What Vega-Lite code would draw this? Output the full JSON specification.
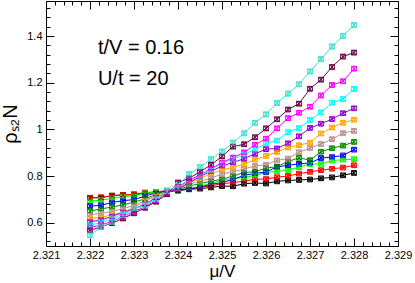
{
  "$schema": "https://vega.github.io/schema/vega-lite/v6.json",
  "width": 352,
  "height": 245,
  "autosize": {"type": "none"},
  "padding": {"left": 46, "top": 1, "right": 17, "bottom": 37},
  "config": {
    "font": "Liberation Sans",
    "view": {"stroke": "black", "strokeWidth": 1},
    "axis": {"labelFont": "Liberation Sans", "titleFont": "Liberation Sans", "labelColor": "black", "titleColor": "black", "tickColor": "#000000", "tickOpacity": 1, "tickWidth": 1, "titleFontWeight": "normal", "grid": false, "domain": false, "zindex": 2}
  },
  "data": {"values": [
    {"s":"k","x":2.322,"v":0.706,"e":0.006},{"s":"k","x":2.32225,"v":0.707,"e":0.006},{"s":"k","x":2.3225,"v":0.716,"e":0.006},{"s":"k","x":2.32275,"v":0.719,"e":0.006},{"s":"k","x":2.323,"v":0.720,"e":0.006},{"s":"k","x":2.32325,"v":0.726,"e":0.006},{"s":"k","x":2.3235,"v":0.729,"e":0.006},{"s":"k","x":2.32375,"v":0.733,"e":0.006},{"s":"k","x":2.324,"v":0.737,"e":0.006},{"s":"k","x":2.32425,"v":0.743,"e":0.006},{"s":"k","x":2.3245,"v":0.746,"e":0.006},{"s":"k","x":2.32475,"v":0.751,"e":0.006},{"s":"k","x":2.325,"v":0.757,"e":0.006},{"s":"k","x":2.32525,"v":0.756,"e":0.006},{"s":"k","x":2.3255,"v":0.767,"e":0.006},{"s":"k","x":2.32575,"v":0.770,"e":0.006},{"s":"k","x":2.326,"v":0.768,"e":0.006},{"s":"k","x":2.32625,"v":0.777,"e":0.006},{"s":"k","x":2.3265,"v":0.781,"e":0.006},{"s":"k","x":2.32675,"v":0.783,"e":0.006},{"s":"k","x":2.327,"v":0.785,"e":0.006},{"s":"k","x":2.32725,"v":0.790,"e":0.006},{"s":"k","x":2.3275,"v":0.794,"e":0.006},{"s":"k","x":2.32775,"v":0.803,"e":0.006},{"s":"k","x":2.328,"v":0.813,"e":0.006},
    {"s":"r","x":2.322,"v":0.707,"e":0.006},{"s":"r","x":2.32225,"v":0.709,"e":0.006},{"s":"r","x":2.3225,"v":0.715,"e":0.006},{"s":"r","x":2.32275,"v":0.719,"e":0.006},{"s":"r","x":2.323,"v":0.722,"e":0.006},{"s":"r","x":2.32325,"v":0.729,"e":0.006},{"s":"r","x":2.3235,"v":0.732,"e":0.006},{"s":"r","x":2.32375,"v":0.737,"e":0.006},{"s":"r","x":2.324,"v":0.741,"e":0.006},{"s":"r","x":2.32425,"v":0.745,"e":0.006},{"s":"r","x":2.3245,"v":0.751,"e":0.006},{"s":"r","x":2.32475,"v":0.758,"e":0.006},{"s":"r","x":2.325,"v":0.767,"e":0.006},{"s":"r","x":2.32525,"v":0.772,"e":0.006},{"s":"r","x":2.3255,"v":0.778,"e":0.006},{"s":"r","x":2.32575,"v":0.786,"e":0.006},{"s":"r","x":2.326,"v":0.787,"e":0.006},{"s":"r","x":2.32625,"v":0.795,"e":0.006},{"s":"r","x":2.3265,"v":0.800,"e":0.006},{"s":"r","x":2.32675,"v":0.810,"e":0.006},{"s":"r","x":2.327,"v":0.818,"e":0.006},{"s":"r","x":2.32725,"v":0.825,"e":0.006},{"s":"r","x":2.3275,"v":0.831,"e":0.006},{"s":"r","x":2.32775,"v":0.836,"e":0.006},{"s":"r","x":2.328,"v":0.846,"e":0.006},
    {"s":"g","x":2.322,"v":0.692,"e":0.006},{"s":"g","x":2.32225,"v":0.697,"e":0.006},{"s":"g","x":2.3225,"v":0.704,"e":0.006},{"s":"g","x":2.32275,"v":0.711,"e":0.006},{"s":"g","x":2.323,"v":0.716,"e":0.006},{"s":"g","x":2.32325,"v":0.725,"e":0.006},{"s":"g","x":2.3235,"v":0.732,"e":0.006},{"s":"g","x":2.32375,"v":0.737,"e":0.006},{"s":"g","x":2.324,"v":0.740,"e":0.006},{"s":"g","x":2.32425,"v":0.746,"e":0.006},{"s":"g","x":2.3245,"v":0.756,"e":0.006},{"s":"g","x":2.32475,"v":0.768,"e":0.006},{"s":"g","x":2.325,"v":0.782,"e":0.006},{"s":"g","x":2.32525,"v":0.788,"e":0.006},{"s":"g","x":2.3255,"v":0.794,"e":0.006},{"s":"g","x":2.32575,"v":0.803,"e":0.006},{"s":"g","x":2.326,"v":0.815,"e":0.006},{"s":"g","x":2.32625,"v":0.820,"e":0.006},{"s":"g","x":2.3265,"v":0.826,"e":0.006},{"s":"g","x":2.32675,"v":0.838,"e":0.006},{"s":"g","x":2.327,"v":0.851,"e":0.006},{"s":"g","x":2.32725,"v":0.852,"e":0.006},{"s":"g","x":2.3275,"v":0.866,"e":0.006},{"s":"g","x":2.32775,"v":0.870,"e":0.006},{"s":"g","x":2.328,"v":0.872,"e":0.006},
    {"s":"b","x":2.322,"v":0.671,"e":0.006},{"s":"b","x":2.32225,"v":0.674,"e":0.006},{"s":"b","x":2.3225,"v":0.687,"e":0.006},{"s":"b","x":2.32275,"v":0.694,"e":0.006},{"s":"b","x":2.323,"v":0.699,"e":0.006},{"s":"b","x":2.32325,"v":0.714,"e":0.006},{"s":"b","x":2.3235,"v":0.728,"e":0.006},{"s":"b","x":2.32375,"v":0.736,"e":0.006},{"s":"b","x":2.324,"v":0.740,"e":0.006},{"s":"b","x":2.32425,"v":0.745,"e":0.006},{"s":"b","x":2.3245,"v":0.752,"e":0.006},{"s":"b","x":2.32475,"v":0.764,"e":0.006},{"s":"b","x":2.325,"v":0.772,"e":0.006},{"s":"b","x":2.32525,"v":0.785,"e":0.006},{"s":"b","x":2.3255,"v":0.803,"e":0.006},{"s":"b","x":2.32575,"v":0.811,"e":0.006},{"s":"b","x":2.326,"v":0.817,"e":0.006},{"s":"b","x":2.32625,"v":0.839,"e":0.006},{"s":"b","x":2.3265,"v":0.846,"e":0.006},{"s":"b","x":2.32675,"v":0.852,"e":0.006},{"s":"b","x":2.327,"v":0.856,"e":0.006},{"s":"b","x":2.32725,"v":0.877,"e":0.006},{"s":"b","x":2.3275,"v":0.881,"e":0.006},{"s":"b","x":2.32775,"v":0.888,"e":0.006},{"s":"b","x":2.328,"v":0.913,"e":0.006},
    {"s":"d","x":2.322,"v":0.650,"e":0.007},{"s":"d","x":2.32225,"v":0.659,"e":0.007},{"s":"d","x":2.3225,"v":0.667,"e":0.007},{"s":"d","x":2.32275,"v":0.677,"e":0.007},{"s":"d","x":2.323,"v":0.688,"e":0.007},{"s":"d","x":2.32325,"v":0.702,"e":0.007},{"s":"d","x":2.3235,"v":0.721,"e":0.007},{"s":"d","x":2.32375,"v":0.736,"e":0.007},{"s":"d","x":2.324,"v":0.741,"e":0.007},{"s":"d","x":2.32425,"v":0.757,"e":0.007},{"s":"d","x":2.3245,"v":0.767,"e":0.007},{"s":"d","x":2.32475,"v":0.778,"e":0.007},{"s":"d","x":2.325,"v":0.786,"e":0.007},{"s":"d","x":2.32525,"v":0.800,"e":0.007},{"s":"d","x":2.3255,"v":0.815,"e":0.007},{"s":"d","x":2.32575,"v":0.818,"e":0.007},{"s":"d","x":2.326,"v":0.834,"e":0.007},{"s":"d","x":2.32625,"v":0.840,"e":0.007},{"s":"d","x":2.3265,"v":0.862,"e":0.007},{"s":"d","x":2.32675,"v":0.878,"e":0.007},{"s":"d","x":2.327,"v":0.868,"e":0.007},{"s":"d","x":2.32725,"v":0.904,"e":0.007},{"s":"d","x":2.3275,"v":0.919,"e":0.007},{"s":"d","x":2.32775,"v":0.930,"e":0.007},{"s":"d","x":2.328,"v":0.946,"e":0.007},
    {"s":"n","x":2.322,"v":0.634,"e":0.007},{"s":"n","x":2.32225,"v":0.640,"e":0.007},{"s":"n","x":2.3225,"v":0.648,"e":0.007},{"s":"n","x":2.32275,"v":0.660,"e":0.007},{"s":"n","x":2.323,"v":0.673,"e":0.007},{"s":"n","x":2.32325,"v":0.694,"e":0.007},{"s":"n","x":2.3235,"v":0.717,"e":0.007},{"s":"n","x":2.32375,"v":0.734,"e":0.007},{"s":"n","x":2.324,"v":0.745,"e":0.007},{"s":"n","x":2.32425,"v":0.764,"e":0.007},{"s":"n","x":2.3245,"v":0.777,"e":0.007},{"s":"n","x":2.32475,"v":0.791,"e":0.007},{"s":"n","x":2.325,"v":0.808,"e":0.007},{"s":"n","x":2.32525,"v":0.818,"e":0.007},{"s":"n","x":2.3255,"v":0.830,"e":0.007},{"s":"n","x":2.32575,"v":0.843,"e":0.007},{"s":"n","x":2.326,"v":0.848,"e":0.007},{"s":"n","x":2.32625,"v":0.867,"e":0.007},{"s":"n","x":2.3265,"v":0.875,"e":0.007},{"s":"n","x":2.32675,"v":0.902,"e":0.007},{"s":"n","x":2.327,"v":0.920,"e":0.007},{"s":"n","x":2.32725,"v":0.937,"e":0.007},{"s":"n","x":2.3275,"v":0.958,"e":0.007},{"s":"n","x":2.32775,"v":0.984,"e":0.007},{"s":"n","x":2.328,"v":0.993,"e":0.007},
    {"s":"o","x":2.322,"v":0.619,"e":0.007},{"s":"o","x":2.32225,"v":0.622,"e":0.007},{"s":"o","x":2.3225,"v":0.634,"e":0.007},{"s":"o","x":2.32275,"v":0.645,"e":0.007},{"s":"o","x":2.323,"v":0.665,"e":0.007},{"s":"o","x":2.32325,"v":0.692,"e":0.007},{"s":"o","x":2.3235,"v":0.714,"e":0.007},{"s":"o","x":2.32375,"v":0.732,"e":0.007},{"s":"o","x":2.324,"v":0.746,"e":0.007},{"s":"o","x":2.32425,"v":0.770,"e":0.007},{"s":"o","x":2.3245,"v":0.790,"e":0.007},{"s":"o","x":2.32475,"v":0.810,"e":0.007},{"s":"o","x":2.325,"v":0.826,"e":0.007},{"s":"o","x":2.32525,"v":0.837,"e":0.007},{"s":"o","x":2.3255,"v":0.851,"e":0.007},{"s":"o","x":2.32575,"v":0.870,"e":0.007},{"s":"o","x":2.326,"v":0.886,"e":0.007},{"s":"o","x":2.32625,"v":0.903,"e":0.007},{"s":"o","x":2.3265,"v":0.922,"e":0.007},{"s":"o","x":2.32675,"v":0.932,"e":0.007},{"s":"o","x":2.327,"v":0.943,"e":0.007},{"s":"o","x":2.32725,"v":0.982,"e":0.007},{"s":"o","x":2.3275,"v":1.008,"e":0.007},{"s":"o","x":2.32775,"v":1.028,"e":0.007},{"s":"o","x":2.328,"v":1.041,"e":0.007},
    {"s":"v","x":2.322,"v":0.604,"e":0.008},{"s":"v","x":2.32225,"v":0.611,"e":0.008},{"s":"v","x":2.3225,"v":0.627,"e":0.008},{"s":"v","x":2.32275,"v":0.644,"e":0.008},{"s":"v","x":2.323,"v":0.659,"e":0.008},{"s":"v","x":2.32325,"v":0.680,"e":0.008},{"s":"v","x":2.3235,"v":0.707,"e":0.008},{"s":"v","x":2.32375,"v":0.729,"e":0.008},{"s":"v","x":2.324,"v":0.745,"e":0.008},{"s":"v","x":2.32425,"v":0.771,"e":0.008},{"s":"v","x":2.3245,"v":0.798,"e":0.008},{"s":"v","x":2.32475,"v":0.820,"e":0.008},{"s":"v","x":2.325,"v":0.843,"e":0.008},{"s":"v","x":2.32525,"v":0.858,"e":0.008},{"s":"v","x":2.3255,"v":0.874,"e":0.008},{"s":"v","x":2.32575,"v":0.895,"e":0.008},{"s":"v","x":2.326,"v":0.915,"e":0.008},{"s":"v","x":2.32625,"v":0.918,"e":0.008},{"s":"v","x":2.3265,"v":0.940,"e":0.008},{"s":"v","x":2.32675,"v":0.970,"e":0.008},{"s":"v","x":2.327,"v":1.006,"e":0.008},{"s":"v","x":2.32725,"v":1.024,"e":0.008},{"s":"v","x":2.3275,"v":1.044,"e":0.008},{"s":"v","x":2.32775,"v":1.069,"e":0.008},{"s":"v","x":2.328,"v":1.090,"e":0.008},
    {"s":"c","x":2.322,"v":0.590,"e":0.008},{"s":"c","x":2.32225,"v":0.600,"e":0.008},{"s":"c","x":2.3225,"v":0.617,"e":0.008},{"s":"c","x":2.32275,"v":0.637,"e":0.008},{"s":"c","x":2.323,"v":0.658,"e":0.008},{"s":"c","x":2.32325,"v":0.676,"e":0.008},{"s":"c","x":2.3235,"v":0.702,"e":0.008},{"s":"c","x":2.32375,"v":0.736,"e":0.008},{"s":"c","x":2.324,"v":0.751,"e":0.008},{"s":"c","x":2.32425,"v":0.784,"e":0.008},{"s":"c","x":2.3245,"v":0.800,"e":0.008},{"s":"c","x":2.32475,"v":0.826,"e":0.008},{"s":"c","x":2.325,"v":0.855,"e":0.008},{"s":"c","x":2.32525,"v":0.873,"e":0.008},{"s":"c","x":2.3255,"v":0.893,"e":0.008},{"s":"c","x":2.32575,"v":0.913,"e":0.008},{"s":"c","x":2.326,"v":0.940,"e":0.008},{"s":"c","x":2.32625,"v":0.952,"e":0.008},{"s":"c","x":2.3265,"v":0.988,"e":0.008},{"s":"c","x":2.32675,"v":1.005,"e":0.008},{"s":"c","x":2.327,"v":1.040,"e":0.008},{"s":"c","x":2.32725,"v":1.073,"e":0.008},{"s":"c","x":2.3275,"v":1.114,"e":0.008},{"s":"c","x":2.32775,"v":1.130,"e":0.008},{"s":"c","x":2.328,"v":1.173,"e":0.008},
    {"s":"m","x":2.322,"v":0.579,"e":0.009},{"s":"m","x":2.32225,"v":0.590,"e":0.009},{"s":"m","x":2.3225,"v":0.606,"e":0.009},{"s":"m","x":2.32275,"v":0.626,"e":0.009},{"s":"m","x":2.323,"v":0.648,"e":0.009},{"s":"m","x":2.32325,"v":0.668,"e":0.009},{"s":"m","x":2.3235,"v":0.695,"e":0.009},{"s":"m","x":2.32375,"v":0.728,"e":0.009},{"s":"m","x":2.324,"v":0.752,"e":0.009},{"s":"m","x":2.32425,"v":0.782,"e":0.009},{"s":"m","x":2.3245,"v":0.805,"e":0.009},{"s":"m","x":2.32475,"v":0.832,"e":0.009},{"s":"m","x":2.325,"v":0.857,"e":0.009},{"s":"m","x":2.32525,"v":0.879,"e":0.009},{"s":"m","x":2.3255,"v":0.901,"e":0.009},{"s":"m","x":2.32575,"v":0.934,"e":0.009},{"s":"m","x":2.326,"v":0.960,"e":0.009},{"s":"m","x":2.32625,"v":1.004,"e":0.009},{"s":"m","x":2.3265,"v":1.048,"e":0.009},{"s":"m","x":2.32675,"v":1.071,"e":0.009},{"s":"m","x":2.327,"v":1.097,"e":0.009},{"s":"m","x":2.32725,"v":1.145,"e":0.009},{"s":"m","x":2.3275,"v":1.190,"e":0.009},{"s":"m","x":2.32775,"v":1.206,"e":0.009},{"s":"m","x":2.328,"v":1.260,"e":0.009},
    {"s":"a","x":2.322,"v":0.567,"e":0.009},{"s":"a","x":2.32225,"v":0.582,"e":0.009},{"s":"a","x":2.3225,"v":0.598,"e":0.009},{"s":"a","x":2.32275,"v":0.618,"e":0.009},{"s":"a","x":2.323,"v":0.640,"e":0.009},{"s":"a","x":2.32325,"v":0.664,"e":0.009},{"s":"a","x":2.3235,"v":0.690,"e":0.009},{"s":"a","x":2.32375,"v":0.722,"e":0.009},{"s":"a","x":2.324,"v":0.772,"e":0.009},{"s":"a","x":2.32425,"v":0.790,"e":0.009},{"s":"a","x":2.3245,"v":0.818,"e":0.009},{"s":"a","x":2.32475,"v":0.848,"e":0.009},{"s":"a","x":2.325,"v":0.884,"e":0.009},{"s":"a","x":2.32525,"v":0.926,"e":0.009},{"s":"a","x":2.3255,"v":0.936,"e":0.009},{"s":"a","x":2.32575,"v":0.966,"e":0.009},{"s":"a","x":2.326,"v":1.004,"e":0.009},{"s":"a","x":2.32625,"v":1.043,"e":0.009},{"s":"a","x":2.3265,"v":1.085,"e":0.009},{"s":"a","x":2.32675,"v":1.110,"e":0.009},{"s":"a","x":2.327,"v":1.174,"e":0.009},{"s":"a","x":2.32725,"v":1.213,"e":0.009},{"s":"a","x":2.3275,"v":1.267,"e":0.009},{"s":"a","x":2.32775,"v":1.312,"e":0.009},{"s":"a","x":2.328,"v":1.329,"e":0.009},
    {"s":"t","x":2.322,"v":0.546,"e":0.01},{"s":"t","x":2.32225,"v":0.581,"e":0.01},{"s":"t","x":2.3225,"v":0.603,"e":0.01},{"s":"t","x":2.32275,"v":0.632,"e":0.01},{"s":"t","x":2.323,"v":0.660,"e":0.01},{"s":"t","x":2.32325,"v":0.672,"e":0.01},{"s":"t","x":2.3235,"v":0.700,"e":0.01},{"s":"t","x":2.32375,"v":0.735,"e":0.01},{"s":"t","x":2.324,"v":0.760,"e":0.01},{"s":"t","x":2.32425,"v":0.808,"e":0.01},{"s":"t","x":2.3245,"v":0.838,"e":0.01},{"s":"t","x":2.32475,"v":0.872,"e":0.01},{"s":"t","x":2.325,"v":0.905,"e":0.01},{"s":"t","x":2.32525,"v":0.943,"e":0.01},{"s":"t","x":2.3255,"v":0.983,"e":0.01},{"s":"t","x":2.32575,"v":1.028,"e":0.01},{"s":"t","x":2.326,"v":1.064,"e":0.01},{"s":"t","x":2.32625,"v":1.113,"e":0.01},{"s":"t","x":2.3265,"v":1.153,"e":0.01},{"s":"t","x":2.32675,"v":1.193,"e":0.01},{"s":"t","x":2.327,"v":1.248,"e":0.01},{"s":"t","x":2.32725,"v":1.301,"e":0.01},{"s":"t","x":2.3275,"v":1.355,"e":0.01},{"s":"t","x":2.32775,"v":1.401,"e":0.01},{"s":"t","x":2.328,"v":1.447,"e":0.01}
  ]},
  "layer": [
    {
      "mark": {"type": "point", "opacity": 0},
      "encoding": {
        "x": {"field": "x", "type": "quantitative", "scale": {"domain": [2.321, 2.329], "nice": false, "zero": false}, "axis": {"orient": "bottom", "values": [2.321,2.322,2.323,2.324,2.325,2.326,2.327,2.328,2.329], "format": ".3f", "ticks": false, "labelPadding": 3, "labelFontSize": 11, "labelFlush": false, "labelOverlap": false, "labelBound": false, "title": "μ/V", "titleFontSize": 17, "titlePadding": 3}},
        "y": {"field": "v", "type": "quantitative", "scale": {"domain": [0.5, 1.55], "nice": false, "zero": false}, "axis": {"orient": "left", "values": [0.6,0.8,1,1.2,1.4], "format": "~g", "ticks": false, "labelPadding": 4, "labelFontSize": 11, "labelFlush": false, "labelOverlap": false, "labelBound": false, "title": "ρₛ₂N", "titleFontSize": 20, "titlePadding": 6}}
      }
    },
    {
      "mark": {"type": "point", "opacity": 0},
      "encoding": {
        "x": {"field": "x", "type": "quantitative", "axis": {"orient": "bottom", "values": [2.321,2.322,2.323,2.324,2.325,2.326,2.327,2.328,2.329], "labels": false, "ticks": true, "tickSize": -8, "title": null}},
        "y": {"field": "v", "type": "quantitative", "axis": {"orient": "left", "values": [0.6,0.8,1,1.2,1.4], "labels": false, "ticks": true, "tickSize": -8, "title": null}}
      }
    },
    {
      "mark": {"type": "point", "opacity": 0},
      "encoding": {
        "x": {"field": "x", "type": "quantitative", "axis": {"orient": "bottom", "values": [2.3212,2.3214,2.3216,2.3218,2.3222,2.3224,2.3226,2.3228,2.3232,2.3234,2.3236,2.3238,2.3242,2.3244,2.3246,2.3248,2.3252,2.3254,2.3256,2.3258,2.3262,2.3264,2.3266,2.3268,2.3272,2.3274,2.3276,2.3278,2.3282,2.3284,2.3286,2.3288], "labels": false, "ticks": true, "tickSize": -4, "title": null}},
        "y": {"field": "v", "type": "quantitative", "axis": {"orient": "left", "values": [0.52,0.56,0.64,0.68,0.72,0.76,0.84,0.88,0.92,0.96,1.04,1.08,1.12,1.16,1.24,1.28,1.32,1.36,1.44,1.48,1.52], "labels": false, "ticks": true, "tickSize": -4, "title": null}}
      }
    },
    {
      "mark": {"type": "point", "opacity": 0},
      "encoding": {
        "x": {"field": "x", "type": "quantitative", "axis": {"orient": "top", "values": [2.321,2.322,2.323,2.324,2.325,2.326,2.327,2.328,2.329], "labels": false, "ticks": true, "tickSize": -8, "title": null}},
        "y": {"field": "v", "type": "quantitative", "axis": {"orient": "right", "values": [0.6,0.8,1,1.2,1.4], "labels": false, "ticks": true, "tickSize": -8, "title": null}}
      }
    },
    {
      "mark": {"type": "point", "opacity": 0},
      "encoding": {
        "x": {"field": "x", "type": "quantitative", "axis": {"orient": "top", "values": [2.3212,2.3214,2.3216,2.3218,2.3222,2.3224,2.3226,2.3228,2.3232,2.3234,2.3236,2.3238,2.3242,2.3244,2.3246,2.3248,2.3252,2.3254,2.3256,2.3258,2.3262,2.3264,2.3266,2.3268,2.3272,2.3274,2.3276,2.3278,2.3282,2.3284,2.3286,2.3288], "labels": false, "ticks": true, "tickSize": -4, "title": null}},
        "y": {"field": "v", "type": "quantitative", "axis": {"orient": "right", "values": [0.52,0.56,0.64,0.68,0.72,0.76,0.84,0.88,0.92,0.96,1.04,1.08,1.12,1.16,1.24,1.28,1.32,1.36,1.44,1.48,1.52], "labels": false, "ticks": true, "tickSize": -4, "title": null}}
      }
    },
    {
      "mark": {"type": "line", "strokeWidth": 1},
      "encoding": {
        "x": {"field": "x", "type": "quantitative", "axis": null},
        "y": {"field": "v", "type": "quantitative", "axis": null},
        "color": {"field": "s", "type": "nominal", "legend": null, "scale": {"domain": ["k","r","g","b","d","n","o","v","c","m","a","t"], "range": ["#000000","#ff0000","#00ff00","#0000ff","#008b00","#bc8f8f","#ffa500","#9400d3","#00ffff","#ff00ff","#670748","#40e0d0"]}}
      }
    },
    {
      "mark": {"type": "point", "shape": "M-1,-1H1V1H-1Z M-1,-1L1,1 M-1,1L1,-1", "filled": false, "size": 22, "strokeWidth": 1, "opacity": 1},
      "encoding": {
        "x": {"field": "x", "type": "quantitative", "axis": null},
        "y": {"field": "v", "type": "quantitative", "axis": null},
        "color": {"field": "s", "type": "nominal", "legend": null}
      }
    },
    {
      "data": {"values": [
        {"tx": 2.32218, "ty": 1.348, "label": "t/V = 0.16"},
        {"tx": 2.32218, "ty": 1.216, "label": "U/t = 20"}
      ]},
      "mark": {"type": "text", "align": "left", "baseline": "middle", "fontSize": 20, "font": "Liberation Sans", "color": "black"},
      "encoding": {
        "x": {"field": "tx", "type": "quantitative", "axis": null},
        "y": {"field": "ty", "type": "quantitative", "axis": null},
        "text": {"field": "label"}
      }
    },
    {
      "mark": {"type": "errorbar", "ticks": {"size": 6, "thickness": 1}, "thickness": 1},
      "encoding": {
        "x": {"field": "x", "type": "quantitative", "axis": null},
        "y": {"field": "v", "type": "quantitative", "axis": null},
        "yError": {"field": "e"},
        "color": {"field": "s", "type": "nominal", "legend": null}
      }
    }
  ],
  "resolve": {"axis": {"x": "independent", "y": "independent"}}
}
